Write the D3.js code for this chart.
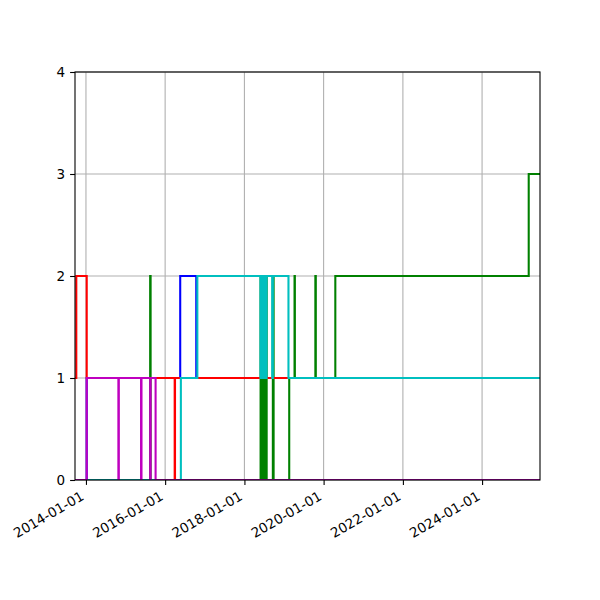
<!DOCTYPE html>
<html>
<head>
<meta charset="utf-8">
<script src="https://cdn.jsdelivr.net/npm/d3@7"></script>
<style>
  html, body { margin: 0; padding: 0; background: #ffffff; }
  svg { display: block; }
  text { font-family: "DejaVu Sans", sans-serif; font-size: 13.5px; fill: #000; }
</style>
</head>
<body>
<svg id="chart" width="600" height="600"></svg>
<script>
// ---- data ----
const xDomain = ["2013-09-22", "2025-06-18"];
const yDomain = [0, 4];
const xTickLabels = ["2014-01-01", "2016-01-01", "2018-01-01", "2020-01-01", "2022-01-01", "2024-01-01"];
const yTickLabels = [0, 1, 2, 3, 4];

const seriesNames = ["b", "g", "r", "c", "m"];
const seriesColors = ["#0000ff", "#008000", "#ff0000", "#00bfbf", "#bf00bf"];

const blueDates = ["2013-09-22", "2014-01-08", "2016-05-19", "2016-10-14", "2025-06-18"];
const blueValues = [0, 1, 2, 1, 1];

const greenDates = ["2013-09-22", "2015-08-16", "2015-08-20",
  "2018-05-30", "2018-06-07", "2018-06-15", "2018-06-23", "2018-07-01", "2018-07-09", "2018-07-17", "2018-07-25",
  "2018-09-20", "2018-09-27", "2019-02-18", "2019-04-08", "2019-04-11", "2019-10-17", "2019-10-21",
  "2020-04-18", "2025-03-06", "2025-06-18"];
const greenValues = [0, 2, 0,
  2, 0, 2, 0, 2, 0, 2, 0,
  2, 0, 1, 2, 1, 2, 1,
  2, 3, 3];

const redDates = ["2013-09-22", "2013-10-04", "2014-01-08", "2016-03-29", "2016-04-01", "2025-06-18"];
const redValues = [1, 2, 1, 0, 1, 1];

const cyanDates = ["2013-09-22", "2016-05-25", "2016-10-24",
  "2018-05-29", "2018-06-06", "2018-06-14", "2018-06-22", "2018-06-30", "2018-07-08", "2018-07-16", "2018-07-24",
  "2018-09-14", "2018-09-20", "2019-02-11", "2025-06-18"];
const cyanValues = [0, 1, 2,
  1, 2, 1, 2, 1, 2, 1, 2,
  1, 2, 1, 1];

const magentaDates = ["2013-09-22", "2014-01-08", "2014-10-27", "2014-10-31", "2015-05-24", "2015-05-28",
  "2015-08-16", "2015-08-20", "2015-10-05", "2025-06-18"];
const magentaValues = [0, 1, 0, 1, 0, 1, 0, 1, 0, 0];

// ---- build ----
const parse = d3.utcParse("%Y-%m-%d");
const seriesTable = [
  [blueDates, blueValues], [greenDates, greenValues], [redDates, redValues],
  [cyanDates, cyanValues], [magentaDates, magentaValues]
].map(([ds, vs], i) => ({
  name: seriesNames[i], color: seriesColors[i],
  points: ds.map((d, j) => ({ t: parse(d), v: vs[j] }))
}));

const mLeft = 75, mRight = 540, mTop = 72, mBottom = 480;
const svg = d3.select("#chart");

const x = d3.scaleUtc().domain(xDomain.map(parse)).range([mLeft, mRight]);
const y = d3.scaleLinear().domain(yDomain).range([mBottom, mTop]);

svg.append("defs").append("clipPath").attr("id", "clip")
  .append("rect").attr("x", mLeft).attr("y", mTop).attr("width", mRight - mLeft).attr("height", mBottom - mTop);

// grid
const grid = svg.append("g");
grid.selectAll(".gx").data(xTickLabels.map(parse)).join("line")
  .attr("x1", d => x(d)).attr("x2", d => x(d)).attr("y1", mTop).attr("y2", mBottom)
  .attr("stroke", "#b0b0b0").attr("stroke-width", 1.1);
grid.selectAll(".gy").data(yTickLabels).join("line")
  .attr("x1", mLeft).attr("x2", mRight).attr("y1", d => y(d)).attr("y2", d => y(d))
  .attr("stroke", "#b0b0b0").attr("stroke-width", 1.1);

// axes
const xAxis = d3.axisBottom(x).tickValues(xTickLabels.map(parse))
  .tickFormat(d3.utcFormat("%Y-%m-%d")).tickSize(4.9).tickPadding(4.9);
const gx = svg.append("g").attr("transform", `translate(0,${mBottom})`).call(xAxis);
gx.select(".domain").remove();
gx.selectAll(".tick line").attr("stroke", "#000").attr("stroke-width", 1.1);
gx.selectAll(".tick text")
  .attr("font-family", "DejaVu Sans").attr("font-size", "13.5px")
  .attr("text-anchor", "end").attr("y", 0).attr("dy", null)
  .attr("transform", "translate(-1.5,19) rotate(-30)");

const yAxis = d3.axisLeft(y).tickValues(yTickLabels).tickFormat(d3.format("d")).tickSize(4.9).tickPadding(4.9);
const gy = svg.append("g").attr("transform", `translate(${mLeft},0)`).call(yAxis);
gy.select(".domain").remove();
gy.selectAll(".tick line").attr("stroke", "#000").attr("stroke-width", 1.1);
gy.selectAll(".tick text").attr("font-family", "DejaVu Sans").attr("font-size", "13.5px").attr("dy", "0.36em");

// lines
const line = d3.line().curve(d3.curveStepAfter).x(d => x(d.t)).y(d => y(d.v));
svg.append("g").attr("clip-path", "url(#clip)")
  .selectAll("path").data(seriesTable).join("path")
  .attr("d", d => line(d.points))
  .attr("fill", "none").attr("stroke", d => d.color)
  .attr("stroke-width", 2.08).attr("stroke-linejoin", "miter").attr("stroke-linecap", "butt");

// spines
svg.append("rect").attr("x", mLeft).attr("y", mTop).attr("width", mRight - mLeft).attr("height", mBottom - mTop)
  .attr("fill", "none").attr("stroke", "#000").attr("stroke-width", 1.1);
</script>
</body>
</html>
